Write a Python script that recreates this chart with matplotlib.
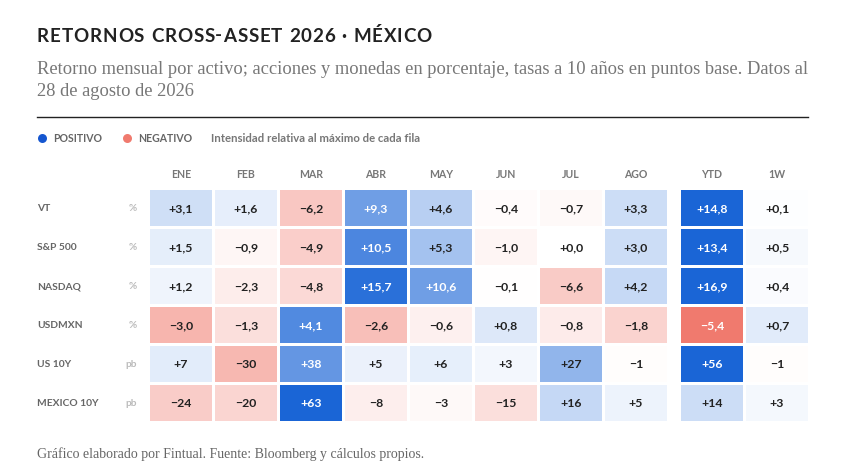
import matplotlib
matplotlib.use("Agg")
import matplotlib.pyplot as plt
from matplotlib.patches import Rectangle
import numpy as np

# data
columns = ["ENE", "FEB", "MAR", "ABR", "MAY", "JUN", "JUL", "AGO", "YTD", "1W"]
assets = ["VT", "S&P 500", "NASDAQ", "USDMXN", "US 10Y", "MEXICO 10Y"]
units = ["%", "%", "%", "%", "pb", "pb"]

vt = [3.1, 1.6, -6.2, 9.3, 4.6, -0.4, -0.7, 3.3, 14.8, 0.1]
spx = [1.5, -0.9, -4.9, 10.5, 5.3, -1.0, 0.0, 3.0, 13.4, 0.5]
nasdaq = [1.2, -2.3, -4.8, 15.7, 10.6, -0.1, -6.6, 4.2, 16.9, 0.4]
usdmxn = [-3.0, -1.3, 4.1, -2.6, -0.6, 0.8, -0.8, -1.8, -5.4, 0.7]
us10y = [7, -30, 38, 5, 6, 3, 27, -1, 56, -1]
mx10y = [-24, -20, 63, -8, -3, -15, 16, 5, 14, 3]
values = np.array([vt, spx, nasdaq, usdmxn, us10y, mx10y], dtype=float)

POS = np.array([26, 101, 214]) / 255
NEG = np.array([240, 122, 110]) / 255
WHITE = np.ones(3)

def cell_color(v, vmax):
    t = abs(v) / vmax if vmax else 0
    base = POS if v >= 0 else NEG
    return WHITE + (base - WHITE) * t, t

def fmt(v, unit):
    sign = "+" if v >= 0 else "\u2212"
    if unit == "%":
        s = f"{abs(v):.1f}".replace(".", ",")
    else:
        s = f"{abs(v):.0f}"
    return sign + s

fig = plt.figure(figsize=(8.42, 4.77), dpi=100)
ax = fig.add_axes([0, 0, 1, 1])
ax.set_xlim(0, 842)
ax.set_ylim(477, 0)
ax.axis("off")
renderer = fig.canvas.get_renderer()

sans = "Lato"
serif = "Liberation Serif"

def spaced(x, y, s, spacing, **kw):
    # draw text char by char with extra letter spacing (pixels)
    probe = ax.text(0, 0, "n", **kw)
    space_w = probe.get_window_extent(renderer).width * 0.5
    probe.remove()
    for ch in s:
        if ch == " ":
            x += space_w + spacing
            continue
        t = ax.text(x, y, ch, ha="left", **kw)
        x += t.get_window_extent(renderer).width + spacing

spaced(37, 36, "RETORNOS CROSS-ASSET 2026 · MÉXICO", 0.8, fontsize=13.5, fontweight="bold",
       family=sans, color="#222222", va="center")
ax.text(37, 70, "Retorno mensual por activo; acciones y monedas en porcentaje, tasas a 10 años en puntos base. Datos al",
        fontsize=13.3, family=serif, color="#777777", va="center", ha="left")
ax.text(37, 92, "28 de agosto de 2026", fontsize=13.3, family=serif, color="#777777",
        va="center", ha="left")
ax.plot([37, 808], [118, 118], color="#222222", lw=1)

# legend
ax.scatter([42], [139], s=42, color="#1556d0", linewidths=0)
ax.text(53, 139, "POSITIVO", fontsize=7.6, family=sans, fontweight="bold", color="#666666", va="center")
ax.scatter([127], [139], s=42, color="#f07a6e", linewidths=0)
ax.text(138, 139, "NEGATIVO", fontsize=7.6, family=sans, fontweight="bold", color="#666666", va="center")
ax.text(211, 139, "Intensidad relativa al máximo de cada fila", fontsize=8.2, family=sans,
        fontweight="bold", color="#777777", va="center")

# grid layout
x0, pitch, w = 150, 65, 62
y0, rpitch, h = 191, 39, 35.5
extra = 11

def col_x(j):
    return x0 + pitch * j + (extra if j >= 8 else 0)

for j, c in enumerate(columns):
    ax.text(col_x(j) + w / 2, 175, c, fontsize=7.6, family=sans, fontweight="bold",
            color="#777777", ha="center", va="center")

for i, name in enumerate(assets):
    row = values[i]
    vmax = np.abs(row).max()
    yc = y0 + rpitch * i + h / 2
    ax.text(37, yc, name, fontsize=7.4, family=sans, fontweight="bold", color="#666666",
            ha="left", va="center")
    ax.text(137, yc, units[i], fontsize=7.2, family=sans, color="#bbbbbb", ha="right", va="center",
            fontweight="bold")
    for j, v in enumerate(row):
        col, t = cell_color(v, vmax)
        ax.add_patch(Rectangle((col_x(j), y0 + rpitch * i), w, h, facecolor=col, edgecolor="none"))
        tc = "white" if t > 0.6 else "#222222"
        ax.text(col_x(j) + w / 2, yc, fmt(v, units[i]), fontsize=8.8, family=sans, fontweight="bold",
                color=tc, ha="center", va="center")

ax.text(37, 454, "Gráfico elaborado por Fintual. Fuente: Bloomberg y cálculos propios.", fontsize=10.0,
        family=serif, color="#666666", va="center", ha="left")

fig.savefig("out.png", dpi=100)
